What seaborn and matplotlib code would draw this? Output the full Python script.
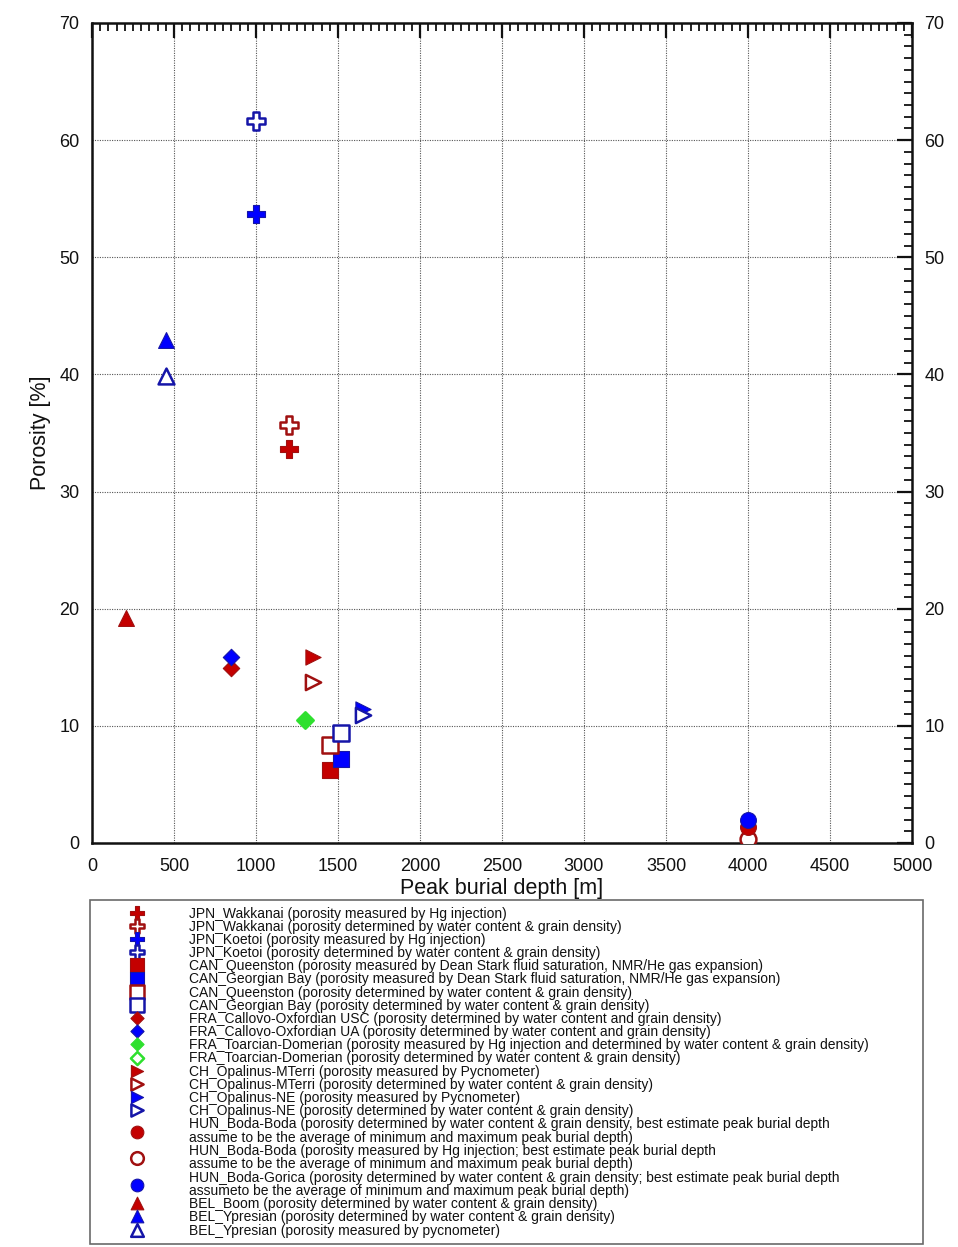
import matplotlib
matplotlib.use("Agg")
import matplotlib.pyplot as plt
from matplotlib.ticker import MultipleLocator
import pandas as pd
import seaborn as sns

# ---- data -------------------------------------------------------------
labels = [
    "JPN_Wakkanai (porosity measured by Hg injection)",
    "JPN_Wakkanai (porosity determined by water content & grain density)",
    "JPN_Koetoi (porosity measured by Hg injection)",
    "JPN_Koetoi (porosity determined by water content & grain density)",
    "CAN_Queenston (porosity measured by Dean Stark fluid saturation, NMR/He gas expansion)",
    "CAN_Georgian Bay (porosity measured by Dean Stark fluid saturation, NMR/He gas expansion)",
    "CAN_Queenston (porosity determined by water content & grain density)",
    "CAN_Georgian Bay (porosity determined by water content & grain density)",
    "FRA_Callovo-Oxfordian USC (porosity determined by water content and grain density)",
    "FRA_Callovo-Oxfordian UA (porosity determined by water content and grain density)",
    "FRA_Toarcian-Domerian (porosity measured by Hg injection and determined by water content & grain density)",
    "FRA_Toarcian-Domerian (porosity determined by water content & grain density)",
    "CH_Opalinus-MTerri (porosity measured by Pycnometer)",
    "CH_Opalinus-MTerri (porosity determined by water content & grain density)",
    "CH_Opalinus-NE (porosity measured by Pycnometer)",
    "CH_Opalinus-NE (porosity determined by water content & grain density)",
    "HUN_Boda-Boda (porosity determined by water content & grain density, best estimate peak burial depth\n"
    "assume to be the average of minimum and maximum peak burial depth)",
    "HUN_Boda-Boda (porosity measured by Hg injection; best estimate peak burial depth\n"
    "assume to be the average of minimum and maximum peak burial depth)",
    "HUN_Boda-Gorica (porosity determined by water content & grain density; best estimate peak burial depth\n"
    "assumeto be the average of minimum and maximum peak burial depth)",
    "BEL_Boom (porosity determined by water content & grain density)",
    "BEL_Ypresian (porosity determined by water content & grain density)",
    "BEL_Ypresian (porosity measured by pycnometer)",
]
depth = [1200, 1200, 1000, 1000, 1450, 1520, 1450, 1520, 850, 850, 1300, 1300,
         1350, 1350, 1650, 1650, 4000, 4000, 4000, 210, 450, 450]
porosity = [33.6, 35.7, 53.7, 61.6, 6.2, 7.2, 8.4, 9.4, 14.9, 15.9, 10.5, 10.5,
            15.9, 13.7, 11.4, 10.9, 1.4, 0.3, 2.0, 19.2, 42.9, 39.9]

# ---- styles -----------------------------------------------------------
RED, RED_D = "#c40000", "#a01010"
BLUE, BLUE_D = "#0000ff", "#1515a8"
GREEN = "#2ee02e"
W = "white"
markers = ["P", "P", "P", "P", "s", "s", "s", "s", "D", "D", "D", "D",
           ">", ">", ">", ">", "o", "o", "o", "^", "^", "^"]
faces = [RED, W, BLUE, W, RED, BLUE, W, W, RED, BLUE, GREEN, W,
         RED, W, BLUE, W, RED, W, BLUE, RED, BLUE, W]
edges = [RED_D, RED_D, BLUE_D, BLUE_D, RED_D, BLUE_D, RED_D, BLUE_D, RED_D, BLUE_D, GREEN, GREEN,
         RED_D, RED_D, BLUE_D, BLUE_D, RED_D, RED_D, BLUE_D, RED_D, BLUE_D, BLUE_D]
sizes = {"P": 150, "s": 140, "D": 70, ">": 120, "o": 130, "^": 130}
zorders = [3, 3, 3, 3, 3, 3, 3, 3, 3, 3, 4, 3.5, 3, 3, 3, 3, 3.5, 3.2, 4, 3, 3, 3]

df = pd.DataFrame({"label": labels, "depth": depth, "porosity": porosity})

sns.set_style("white")
plt.rcParams["font.family"] = ["Liberation Sans", "DejaVu Sans"]

fig = plt.figure(figsize=(9.58, 12.47), dpi=100)
ax = fig.add_axes([0.096, 0.324, 0.856, 0.6576])

for i, row in df.iterrows():
    filled = faces[i] != W
    sns.scatterplot(data=df.iloc[[i]], x="depth", y="porosity", ax=ax,
                    marker=markers[i], s=sizes[markers[i]],
                    color=faces[i], edgecolor=edges[i],
                    linewidth=0.8 if filled else 1.8,
                    label=row["label"], zorder=zorders[i], legend=False)

ax.set_xlim(0, 5000)
ax.set_ylim(0, 70)
ax.xaxis.set_major_locator(MultipleLocator(500))
ax.xaxis.set_minor_locator(MultipleLocator(50))
ax.yaxis.set_major_locator(MultipleLocator(10))
ax.yaxis.set_minor_locator(MultipleLocator(1))
ax.grid(True, which="major", color="#555555", linestyle=(0, (1, 1.2)), linewidth=0.8)
ax.set_axisbelow(True)
for sp in ax.spines.values():
    sp.set_linewidth(1.8)
    sp.set_color("#111111")
ax.tick_params(which="both", direction="in", top=True, right=True,
               labelright=True, color="#111111", labelsize=13, labelcolor="#111111")
ax.tick_params(which="major", length=11, width=1.6)
ax.tick_params(which="minor", length=6, width=1.3)
ax.tick_params(axis="y", which="major", pad=9)
ax.tick_params(axis="x", which="major", pad=11)
ax.set_xlabel("Peak burial depth [m]", fontsize=15.5, labelpad=2, color="#111111")
ax.set_ylabel("Porosity [%]", fontsize=15.5, labelpad=6, color="#111111")

handles, texts = ax.get_legend_handles_labels()
leg = fig.legend(handles, texts, loc="upper left",
                 bbox_to_anchor=(0.094, 0.0, 0.8695, 0.2785), mode="expand",
                 fontsize=10, labelspacing=-0.06, borderpad=0.5,
                 handlelength=5.7, handletextpad=0.95, markerscale=0.8,
                 scatteryoffsets=[0.5], fancybox=False, frameon=True,
                 edgecolor="#444444", borderaxespad=0)
leg.get_frame().set_linewidth(1.2)
for t in leg.get_texts():
    t.set_color("#111111")
    t.set_linespacing(0.95)

fig.savefig("out.png", dpi=100, facecolor="white")
